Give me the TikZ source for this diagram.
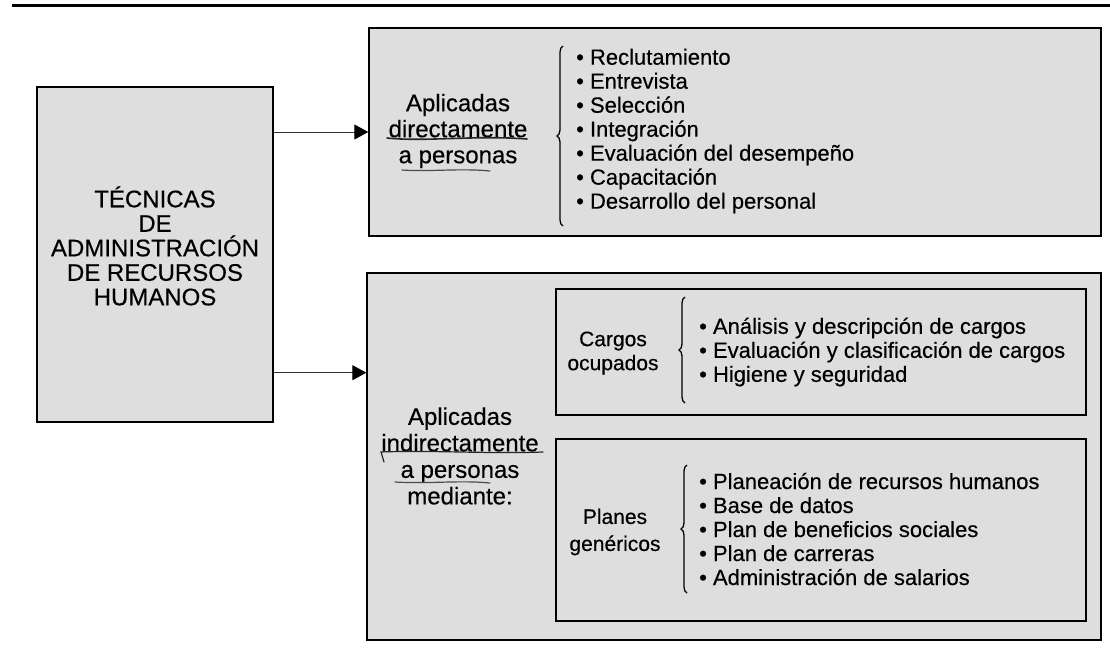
\documentclass[tikz,border=0pt]{standalone}
\usepackage{fontspec}
\setmainfont{Liberation Sans}[FakeBold=0.4]
\usetikzlibrary{arrows.meta,calc,decorations.pathreplacing}
\begin{document}
\begin{tikzpicture}[x=1pt,y=-1pt,
  box/.style={draw=black, line width=1.4pt, fill=black!13, inner sep=0pt},
  inbox/.style={draw=black, line width=1.8pt, inner sep=0pt},
  arr/.style={draw=black!80, line width=1pt, -{Triangle[length=14pt,width=15pt,color=black,fill=black]}},
  brc/.style={draw=black, line width=1.3pt, decorate, decoration={brace, amplitude=6pt}},
  big/.style={font=\fontsize{24}{26}\selectfont, align=center, inner sep=0pt},
  mid/.style={font=\fontsize{21}{24}\selectfont, align=center, inner sep=0pt},
  lst/.style={font=\fontsize{22}{24}\selectfont, align=left, anchor=west, inner sep=0pt},
  pen/.style={line width=1.6pt, draw=black!85, line cap=round}
]
\useasboundingbox (0,0) rectangle (1110,649);
\fill[white] (0,0) rectangle (1110,649);
\draw[line width=3pt] (12,5) -- (1110,5);

\node[box, minimum width=236pt, minimum height=335pt] (L) at (155,254.5) {};
\node[box, minimum width=732pt, minimum height=208pt] (T) at (735,132) {};
\node[box, minimum width=734pt, minimum height=367pt] (B) at (734,456.5) {};
\node[inbox, minimum width=530pt, minimum height=126pt] (C) at (821,352) {};
\node[inbox, minimum width=530pt, minimum height=182pt] (P) at (821,530) {};

\node[big, font=\fontsize{24}{24.5}\selectfont] (Lt) at (155,246) {TÉCNICAS\\DE\\ADMINISTRACIÓN\\DE RECURSOS\\HUMANOS};
\node[big] (Td) at (458,131) {Aplicadas\\directamente\\a personas};
\node[big, font=\fontsize{24}{26.5}\selectfont] (Bi) at (460,456) {Aplicadas\\indirectamente\\a personas\\mediante:};
\node[mid] (Ct) at (613,353) {Cargos\\ocupados};
\node[mid, font=\fontsize{21}{27}\selectfont] (Pt) at (615,532) {Planes\\genéricos};

\node[lst] (Tl) at (576,131) {\textbullet\ Reclutamiento\\\textbullet\ Entrevista\\\textbullet\ Selección\\\textbullet\ Integración\\\textbullet\ Evaluación del desempeño\\\textbullet\ Capacitación\\\textbullet\ Desarrollo del personal};
\node[lst] (Cl) at (699,352) {\textbullet\ Análisis y descripción de cargos\\\textbullet\ Evaluación y clasificación de cargos\\\textbullet\ Higiene y seguridad};
\node[lst] (Pl) at (699,529) {\textbullet\ Planeación de recursos humanos\\\textbullet\ Base de datos\\\textbullet\ Plan de beneficios sociales\\\textbullet\ Plan de carreras\\\textbullet\ Administración de salarios};

\draw[brc] (563,226) -- (563,46);
\draw[brc] (685,403) -- (685,297);
\draw[brc] (687,593) -- (687,465);

\draw[arr] (L.east |- T.west) -- (T.west);
\coordinate (b2) at ($(B.north west)!0.2725!(B.south west)$);
\draw[arr] (L.east |- b2) -- (b2);

\draw[pen] (387,138) .. controls (425,142) and (475,135) .. (527,139);
\draw[pen, line width=1.2pt, draw=black!70] (402,170) .. controls (430,172) and (460,168) .. (490,171);
\draw[pen, line width=1.2pt] (384,462) -- (381,452) .. controls (430,450) and (490,454) .. (543,452);
\draw[pen, line width=1.2pt, draw=black!70] (395,482) .. controls (430,484) and (460,480) .. (490,483);
\end{tikzpicture}
\end{document}
